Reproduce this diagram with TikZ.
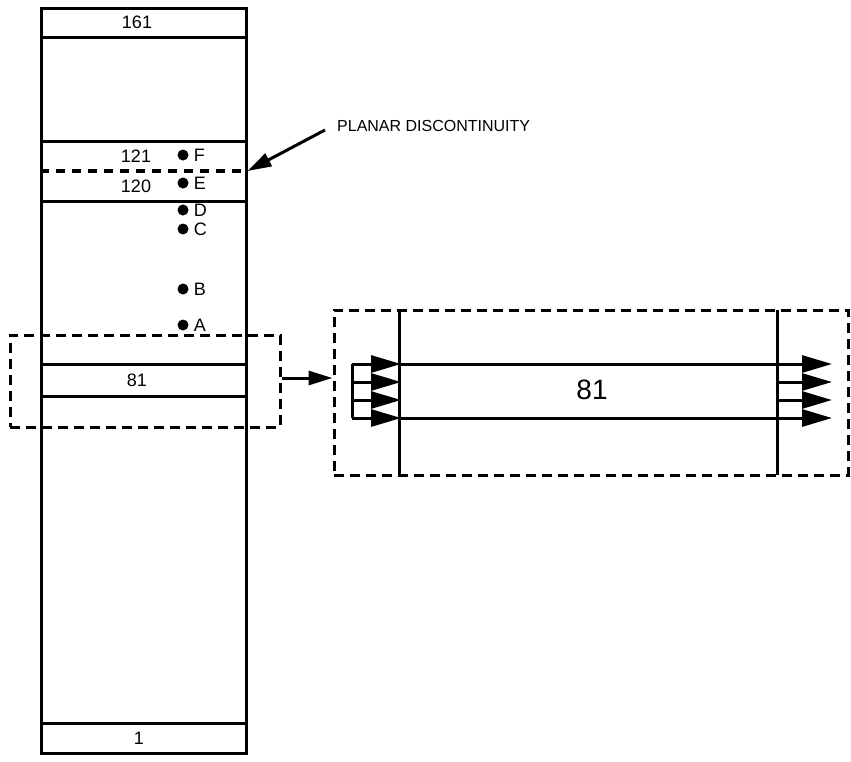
\documentclass[tikz,border=0pt]{standalone}
\usepackage{fontspec}
\setmainfont{Liberation Sans}
\usetikzlibrary{arrows.meta,positioning}

\begin{document}
\begin{tikzpicture}[x=1pt, y=-1pt]
    % Define styles
    \tikzset{
        band/.style={rectangle, draw=black, line width=3pt, minimum width=205pt, inner sep=0pt},
        lbl/.style={font=\fontsize{18}{20}\selectfont, inner sep=0pt},
        pt/.style={circle, fill=black, minimum size=11pt, inner sep=0pt},
        ptlbl/.style={font=\fontsize{18}{20}\selectfont, inner sep=0pt, anchor=west},
        frame/.style={draw=black, line width=3pt, dash pattern=on 10pt off 6pt, inner sep=0pt},
        bigtip/.style={-{Triangle[length=30pt, width=17pt]}, line width=3pt},
        ptr/.style={-{Triangle[length=24pt, width=14pt]}, line width=3pt}
    }
    \useasboundingbox (0,0) rectangle (851,761);

    % Column and its bands
    \draw[line width=3pt] (41,8) rectangle (246,753);
    \node[band, minimum height=29pt] (b161) at (143.5,22.5) {};
    \node[band, minimum height=60pt] (b121) at (143.5,171) {};
    \node[band, minimum height=32pt] (b81) at (143.5,380) {};
    \node[band, minimum height=30pt] (b1) at (143.5,738) {};
    \draw[line width=4.5pt, dash pattern=on 9pt off 7pt] (b121.west) -- (b121.east);
    \coordinate (disc) at (b121.east);

    % Layer numbers
    \node[lbl] (t161) at (137,22.5) {161};
    \node[lbl] (t121) at (136,156) {121};
    \node[lbl] (t120) at (136,186) {120};
    \node[lbl] (t81) at (137,380) {81};
    \node[lbl] (t1) at (139,738) {1};

    % Points A to F
    \foreach \name/\y in {F/155, E/183, D/210, C/229, B/289, A/325} {
        \node[pt] (p\name) at (183,\y) {};
        \node[ptlbl, right=5pt of p\name] (l\name) {\name};
    }

    % Planar discontinuity
    \node[font=\fontsize{16}{18}\selectfont, inner sep=0pt, anchor=west] (disctext) at (337,126) {PLANAR DISCONTINUITY};
    \draw[ptr] (325,130) -- (disc);

    % Selection box round layer 81
    \node[frame, minimum width=270pt, minimum height=92pt] (sel) at (145,381) {};

    % Detail of layer 81
    \node[frame, minimum width=514pt, minimum height=165pt] (detail) at (591,392.5) {};
    \draw[line width=3pt] (399,310) -- (399,475);
    \draw[line width=3pt] (777,310) -- (777,475);
    \draw[line width=3pt] (399,364) -- (777,364);
    \draw[line width=3pt] (399,418) -- (777,418);
    \node[font=\fontsize{28}{30}\selectfont, inner sep=0pt] (t81big) at (592,390) {81};
    \draw[line width=3pt] (352,364) -- (352,418);
    \foreach \y in {364, 382, 400, 418} {
        \draw[bigtip] (352,\y) -- (401,\y);
        \draw[bigtip] (777,\y) -- (832,\y);
    }

    % Arrow from selection to detail
    \draw[ptr] (sel.east |- 0,378) -- (detail.west |- 0,378);
\end{tikzpicture}
\end{document}
